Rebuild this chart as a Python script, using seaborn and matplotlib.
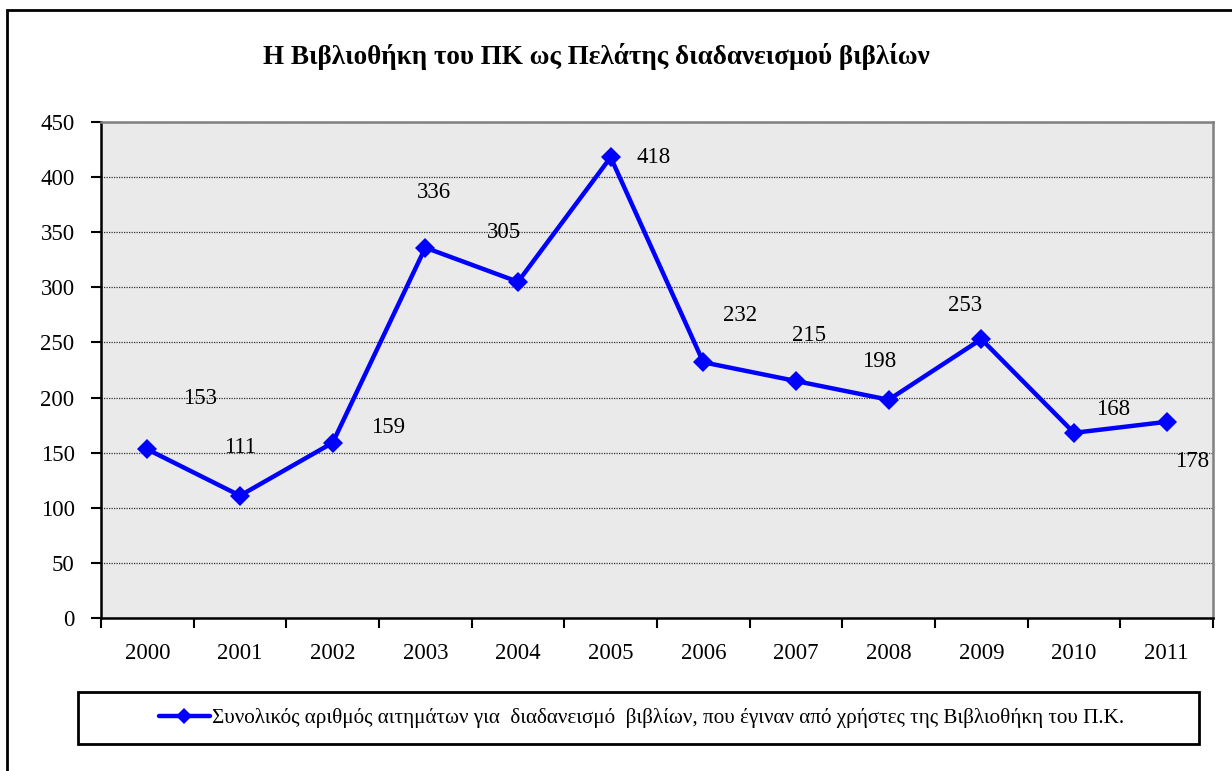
import matplotlib
matplotlib.use("Agg")
import matplotlib.pyplot as plt
import seaborn as sns
import pandas as pd
from matplotlib.patches import Rectangle
from matplotlib.lines import Line2D

# data
years = ["2000", "2001", "2002", "2003", "2004", "2005",
         "2006", "2007", "2008", "2009", "2010", "2011"]
requests = [153, 111, 159, 336, 305, 418, 232, 215, 198, 253, 168, 178]
series_name = ("Συνολικός αριθμός αιτημάτων για  διαδανεισμό  βιβλίων, "
               "που έγιναν από χρήστες της Βιβλιοθήκη του Π.Κ.")
title = "Η Βιβλιοθήκη του ΠΚ ως Πελάτης διαδανεισμού βιβλίων"

# label offsets in pixels (Excel style placement)
label_offsets = [(53, 51), (0, 48), (55, 15), (9, 55), (-14, 49), (43, 0),
                 (37, 47), (13, 46), (-9, 38), (-16, 34), (39, 23), (25, -40)]

sns.set_theme(style="white")
plt.rcParams["font.family"] = ["Liberation Serif", "DejaVu Serif"]
plt.rcParams["text.color"] = "black"
plt.rcParams["xtick.color"] = "black"
plt.rcParams["ytick.color"] = "black"

df = pd.DataFrame({"year": years, "requests": requests})

fig = plt.figure(figsize=(12.32, 7.71), dpi=100)
ax = fig.add_axes([101 / 1232, 1 - 618 / 771, (1213 - 101) / 1232, (618 - 122) / 771])
ax.set_facecolor("#EAEAEA")

sns.lineplot(data=df, x="year", y="requests", ax=ax, color="#0000FF",
             linewidth=3.2, marker="D", markersize=10, markeredgewidth=0)

for i, (v, off) in enumerate(zip(requests, label_offsets)):
    ax.annotate(str(v), (i, v), xytext=off, textcoords="offset pixels",
                ha="center", va="center", fontsize=16.5, color="black")

ax.set_xlim(-0.5, len(years) - 0.5)
ax.set_ylim(0, 450)
ax.set_yticks(range(0, 451, 50))
ax.set_xticks(range(len(years)))
ax.set_xticklabels(years)
ax.set_xticks([i - 0.5 for i in range(len(years) + 1)], minor=True)
ax.tick_params(axis="x", which="major", length=0, pad=18, labelsize=16.5)
ax.tick_params(axis="x", which="minor", length=7, width=1.5, direction="out",
               color="black", bottom=True)
ax.tick_params(axis="y", length=7, width=1.5, direction="out", color="black",
               left=True, pad=12, labelsize=16.5)
ax.yaxis.grid(True, linestyle=(0, (1, 1)), color="#333333", linewidth=0.9)
ax.xaxis.grid(False)
ax.set_xlabel("")
ax.set_ylabel("")

for side in ["left", "bottom"]:
    ax.spines[side].set_color("black")
    ax.spines[side].set_linewidth(1.8)
for side in ["top", "right"]:
    ax.spines[side].set_color("#808080")
    ax.spines[side].set_linewidth(1.8)

fig.text(0.5 * (255 + 938) / 1232, 1 - 57 / 771, title, ha="center", va="center",
         fontsize=19.5, fontweight="bold")

# outer chart border
fig.patches.append(Rectangle((7 / 1232, -0.05), 1.1, 1 - 10 / 771 + 0.05,
                             transform=fig.transFigure, fill=False,
                             edgecolor="black", linewidth=2))

# legend box
fig.patches.append(Rectangle((78 / 1232, 1 - 744 / 771), (1199 - 78) / 1232, 52 / 771,
                             transform=fig.transFigure, fill=False,
                             edgecolor="black", linewidth=2))
handle = Line2D([], [], color="#0000FF", linewidth=3.2, marker="D",
                markersize=8, markeredgewidth=0)
fig.legend([handle], [series_name], loc="center",
           bbox_to_anchor=(0.5 * (153 + 1130) / 1232, 1 - 718 / 771),
           frameon=False, fontsize=15.2, handlelength=2.4, handletextpad=0.1)

fig.savefig("out.png", dpi=100)
